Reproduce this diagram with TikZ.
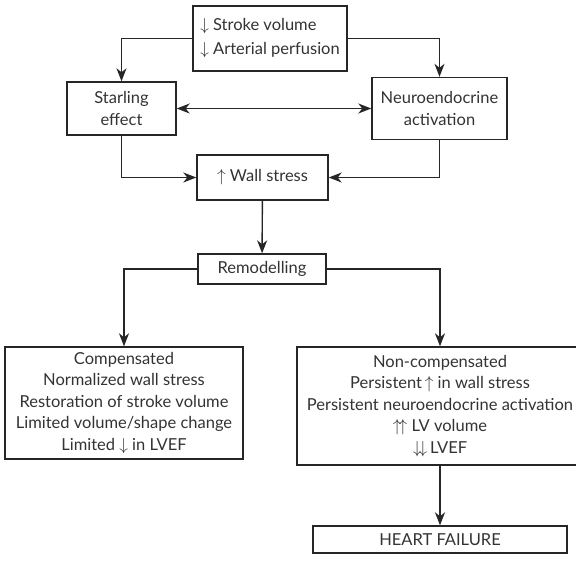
\documentclass[tikz,border=0pt]{standalone}
\usepackage{fontspec}
\setmainfont{Lato}
\usepackage{tikz}
\usetikzlibrary{arrows.meta,positioning}
\definecolor{hfline}{HTML}{262626}
\definecolor{hftext}{HTML}{333333}
\tikzset{hfbox/.style={draw=hfline, line width=1.4pt, inner sep=0pt, align=center, text=hftext, font=\fontsize{16.5}{21.5}\selectfont},
         hfarrow/.style={-{Stealth[length=13pt, width=10pt, inset=4pt]}, draw=hfline, line width=1.4pt}}
\newcommand{\dn}{$\downarrow$}
\newcommand{\upar}{$\uparrow$}

\begin{document}
\begin{tikzpicture}[x=1pt, y=-1pt]
\useasboundingbox (0,0) rectangle (576,563);
\node[hfbox, align=left, minimum width=154pt, minimum height=65pt, font=\fontsize{16.5}{24}\selectfont] (top) at (270,38.5) {\dn\ Stroke volume\\ \dn\ Arterial perfusion};
\node[hfbox, minimum width=109pt, minimum height=53pt] (starling) at (121.5,108.5) {Starling\\ effect};
\node[hfbox, minimum width=135pt, minimum height=62pt] (neuro) at (439.5,108.5) {Neuroendocrine\\ activation};
\node[hfbox, minimum width=131pt, minimum height=45pt] (wall) at (262.5,177.5) {\upar\ Wall stress};
\node[hfbox, minimum width=128pt, minimum height=30pt] (remod) at (262,269) {Remodelling};
\node[hfbox, minimum width=238pt, minimum height=112pt] (comp) at (124,403) {Compensated\\ Normalized wall stress\\ Restoration of stroke volume\\ Limited volume/shape change\\ Limited \dn\ in LVEF};
\node[hfbox, minimum width=286pt, minimum height=118pt] (noncomp) at (440,406) {Non-compensated\\ Persistent\,\upar\ in wall stress\\ Persistent neuroendocrine activation\\ $\uparrow\!\uparrow$ LV volume\\ $\downarrow\!\downarrow$\,LVEF};
\node[hfbox, minimum width=254pt, minimum height=27pt] (hf) at (440,539.5) {HEART FAILURE};
\draw[hfarrow] (top.west) -| (starling.north);
\draw[hfarrow] (top.east) -| (neuro.north);
\draw[hfarrow, {Stealth[length=13pt, width=10pt, inset=4pt]}-{Stealth[length=13pt, width=10pt, inset=4pt]}] (starling.east) -- (neuro.west);
\draw[hfarrow] (starling.south) |- (wall.west);
\draw[hfarrow] (neuro.south) |- (wall.east);
\draw[hfarrow] (wall) -- (remod);
\draw[hfarrow] (remod.west) -| (comp.north);
\draw[hfarrow] (remod.east) -| (noncomp.north);
\draw[hfarrow] (noncomp) -- (hf);
\end{tikzpicture}
\end{document}
